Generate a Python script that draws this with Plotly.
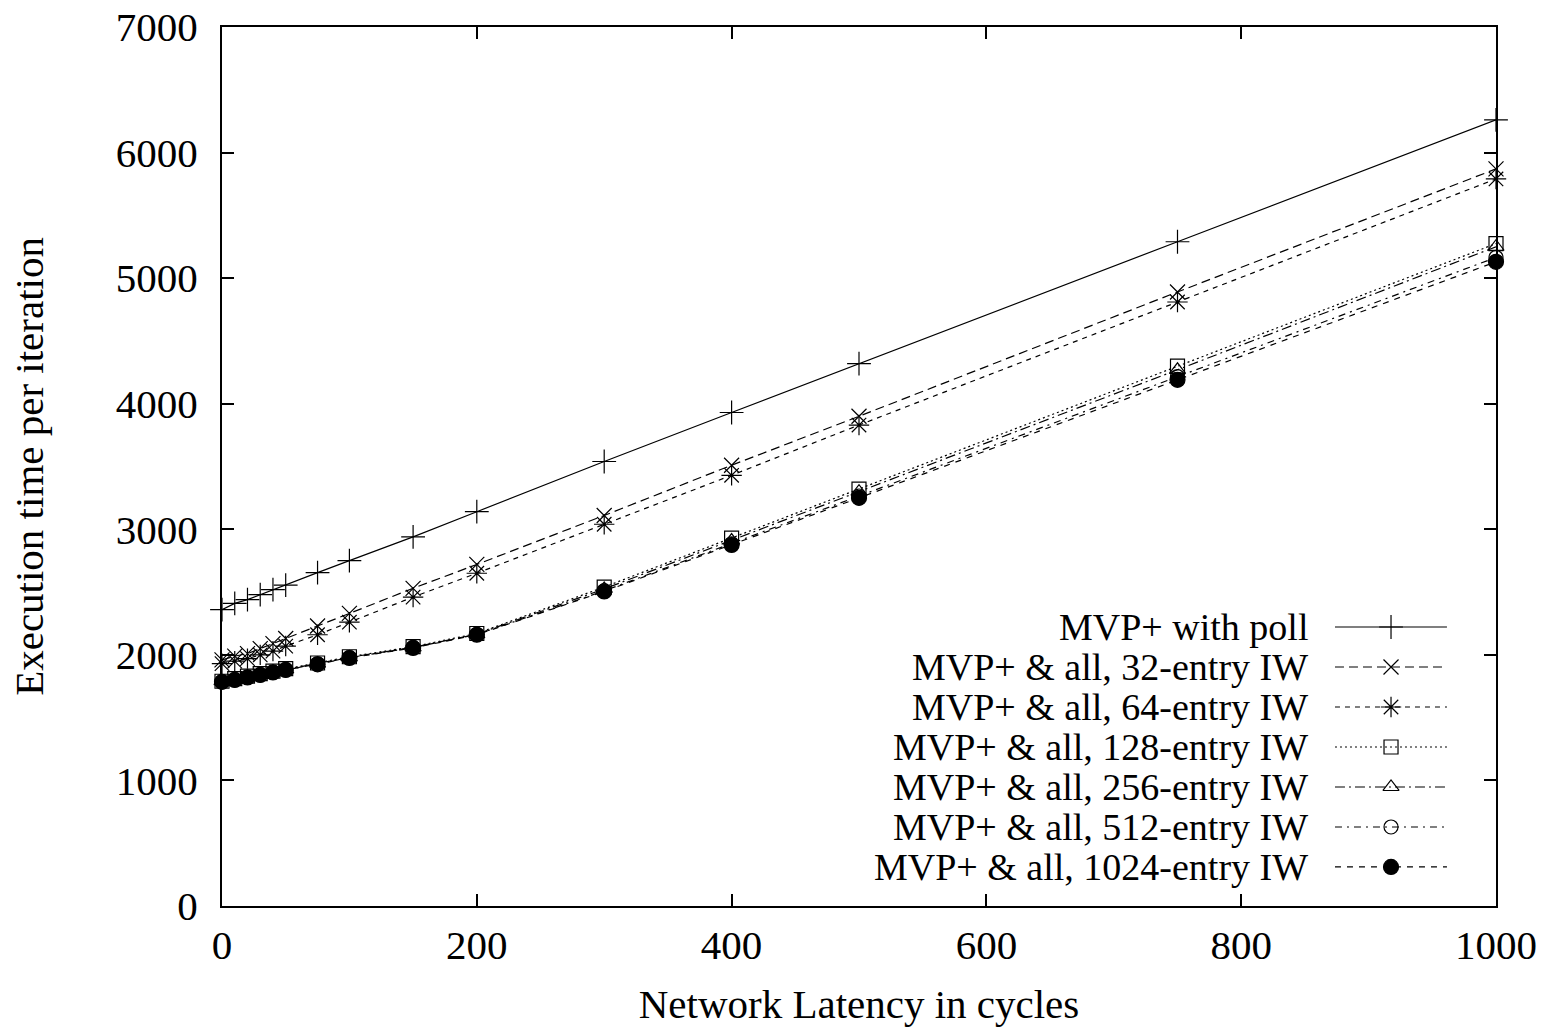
import plotly.graph_objects as go

latency = [0, 10, 20, 30, 40, 50, 75, 100, 150, 200, 300, 400, 500, 750, 1000]

poll      = [2360, 2410, 2440, 2480, 2520, 2555, 2655, 2750, 2940, 3140, 3540, 3930, 4320, 5290, 6260]
iw32      = [1960, 1990, 2010, 2050, 2090, 2130, 2230, 2330, 2530, 2720, 3110, 3510, 3900, 4890, 5870]
iw64      = [1930, 1950, 1970, 2000, 2030, 2070, 2160, 2260, 2460, 2650, 3040, 3430, 3830, 4810, 5790]
iw128     = [1790, 1810, 1830, 1850, 1870, 1890, 1935, 1985, 2065, 2170, 2540, 2930, 3320, 4300, 5275]
iw256     = [1790, 1805, 1825, 1845, 1865, 1885, 1930, 1980, 2060, 2165, 2525, 2910, 3300, 4270, 5250]
iw512     = [1785, 1800, 1820, 1840, 1860, 1880, 1928, 1978, 2058, 2162, 2510, 2885, 3265, 4215, 5165]
iw1024    = [1785, 1800, 1820, 1840, 1860, 1880, 1925, 1975, 2055, 2160, 2505, 2875, 3250, 4190, 5130]

names = ["MVP+ with poll", "MVP+ & all, 32-entry IW", "MVP+ & all, 64-entry IW",
         "MVP+ & all, 128-entry IW", "MVP+ & all, 256-entry IW",
         "MVP+ & all, 512-entry IW", "MVP+ & all, 1024-entry IW"]
series = [poll, iw32, iw64, iw128, iw256, iw512, iw1024]

symbols = ["cross-thin-open", "x-thin-open", "asterisk-open", "square-open",
           "triangle-up-open", "circle-open", "circle"]
dashes = ["solid", "9px,5px", "5px,5px", "2px,3px", "10px,4px,2px,4px",
          "7px,5px,2px,5px", "6px,6px"]
msizes = [17, 15, 17, 14, 14, 14, 15]

FONT = "Liberation Serif"
FS = 41
LFS = 38

fig = go.Figure()
for ys, nm, sym, dsh, ms in zip(series, names, symbols, dashes, msizes):
    fig.add_trace(go.Scatter(
        x=latency, y=ys, name=nm, mode="lines+markers", cliponaxis=False,
        line=dict(color="black", width=1.2, dash=dsh),
        marker=dict(symbol=sym, size=ms, color="black",
                    line=dict(color="black", width=1.2)),
        showlegend=False, xaxis="x", yaxis="y"))

# custom legend (sample on the right of the label, gnuplot style)
row_y = [0.3174, 0.2719, 0.2264, 0.1809, 0.1354, 0.0899, 0.0444]
for ry, nm, sym, dsh, ms in zip(row_y, names, symbols, dashes, msizes):
    fig.add_trace(go.Scatter(
        x=[0.8736, 0.9615], y=[ry, ry], mode="lines",
        line=dict(color="black", width=1.2, dash=dsh),
        showlegend=False, xaxis="x2", yaxis="y2", hoverinfo="skip"))
    fig.add_trace(go.Scatter(
        x=[0.9176], y=[ry], mode="markers",
        marker=dict(symbol=sym, size=ms, color="black",
                    line=dict(color="black", width=1.2)),
        showlegend=False, xaxis="x2", yaxis="y2", hoverinfo="skip"))
    fig.add_annotation(x=0.854, y=ry, xref="x2", yref="y2", text=nm,
                       showarrow=False, xanchor="right", yanchor="middle",
                       font=dict(family=FONT, size=LFS, color="black"))

# y axis title, placed like the reference
fig.add_annotation(x=-0.152, y=0.5, xref="paper", yref="paper",
                   text="Execution time per iteration", textangle=-90,
                   showarrow=False, xanchor="center", yanchor="middle",
                   font=dict(family=FONT, size=FS, color="black"))

axis_common = dict(showgrid=False, zeroline=False, showline=True, linecolor="black",
                   linewidth=2, mirror="allticks", ticks="inside", ticklen=12,
                   tickwidth=2, tickcolor="black", automargin=False,
                   tickfont=dict(family=FONT, size=FS, color="black"))

fig.update_layout(
    width=1547, height=1029,
    margin=dict(l=222, r=51, t=27, b=123),
    paper_bgcolor="white", plot_bgcolor="white",
    xaxis=dict(range=[0, 1000], tickvals=[0, 200, 400, 600, 800, 1000],
               ticklabelstandoff=2,
               title=dict(text="Network Latency in cycles", standoff=22,
                          font=dict(family=FONT, size=FS, color="black")),
               **axis_common),
    yaxis=dict(range=[0, 7000], tickvals=list(range(0, 7001, 1000)),
               ticklabelstandoff=14,
               **axis_common),
    xaxis2=dict(range=[0, 1], overlaying="x", visible=False, fixedrange=True),
    yaxis2=dict(range=[0, 1], overlaying="y", visible=False, fixedrange=True),
    showlegend=False,
)

fig.write_html("out.html")
